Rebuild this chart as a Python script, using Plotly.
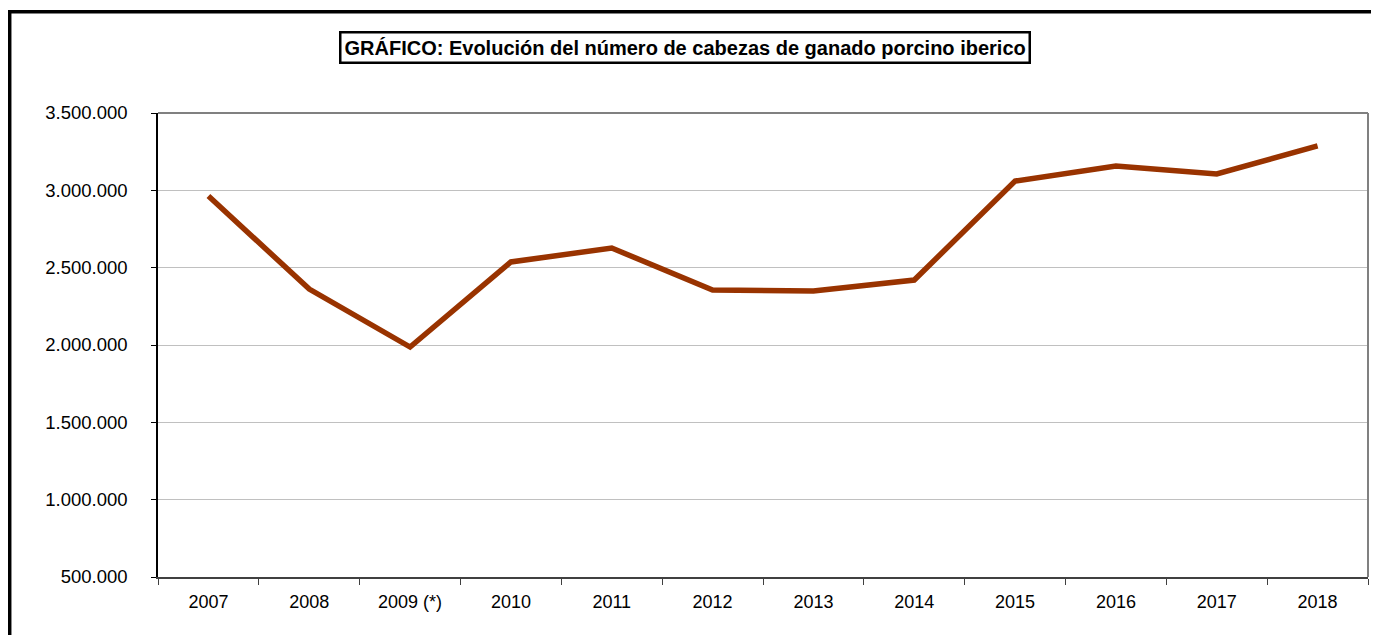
import plotly.graph_objects as go

years = ["2007", "2008", "2009 (*)", "2010", "2011", "2012", "2013", "2014", "2015", "2016", "2017", "2018"]
heads = [2963000, 2362000, 1987000, 2537000, 2627000, 2356000, 2349000, 2420000, 3060000, 3157000, 3106000, 3287000]
y_ticks = [500000, 1000000, 1500000, 2000000, 2500000, 3000000, 3500000]
title_text = "GRÁFICO: Evolución del número de cabezas de ganado porcino iberico"

W, H = 1379, 635
L, R, T, B = 150, 19, 105, 66
pw, ph = W - L - R, H - T - B

def px(x):
    return (x - L) / pw

def py(y):
    return (H - B - y) / ph

fig = go.Figure()
fig.add_trace(go.Scatter(
    x=years, y=heads, mode="lines",
    line=dict(color="#993300", width=5.5),
    hoverinfo="x+y", showlegend=False,
))

font = "Liberation Sans, Arial, sans-serif"

fig.update_layout(
    width=W, height=H,
    margin=dict(l=L, r=R, t=T, b=B),
    paper_bgcolor="white", plot_bgcolor="white",
    separators=",.",
    font=dict(family=font, size=18, color="black"),
    xaxis=dict(
        type="category", range=[-0.5, 11.5],
        showgrid=False, showline=True, linecolor="#404040", linewidth=2,
        ticks="outside", tickson="boundaries", ticklen=6, tickcolor="#404040", tickwidth=1,
        tickfont=dict(family=font, size=18, color="black"),
        ticklabelstandoff=7,
    ),
    yaxis=dict(
        range=[500000, 3500000], tickvals=y_ticks, tickformat=",.0f",
        showgrid=True, gridcolor="#C0C0C0", gridwidth=1,
        showline=True, linecolor="black", linewidth=1.5,
        ticks="outside", ticklen=5, tickcolor="black", tickwidth=1,
        tickfont=dict(family=font, size=18.5, color="black"),
        ticklabelstandoff=20, zeroline=False,
    ),
    shapes=[
        dict(type="line", xref="paper", yref="paper", x0=0, x1=1, y0=1, y1=1,
             line=dict(color="#808080", width=2)),
        dict(type="line", xref="paper", yref="paper", x0=1, x1=1, y0=0, y1=1,
             line=dict(color="#808080", width=2)),
        # outer chart border: left and top edges (right/bottom lie outside the view)
        dict(type="line", xref="paper", yref="paper",
             x0=px(1.7), x1=px(1.7), y0=py(H + 10), y1=py(2),
             line=dict(color="black", width=3.5), layer="above"),
        dict(type="line", xref="paper", yref="paper",
             x0=px(0), x1=px(W + 10), y0=py(3.7), y1=py(3.7),
             line=dict(color="black", width=3.5), layer="above"),
    ],
    annotations=[
        dict(text="<b>" + title_text + "</b>", xref="paper", yref="paper",
             x=px(677), y=py(40), xanchor="center", yanchor="middle",
             showarrow=False, font=dict(family=font, size=20, color="black"),
             bordercolor="black", borderwidth=2.5, borderpad=3, bgcolor="white"),
    ],
)

fig.write_html(
    "out.html",
    config={"displayModeBar": False},
    post_script="document.documentElement.style.overflow='hidden';document.body.style.overflow='hidden';",
)
